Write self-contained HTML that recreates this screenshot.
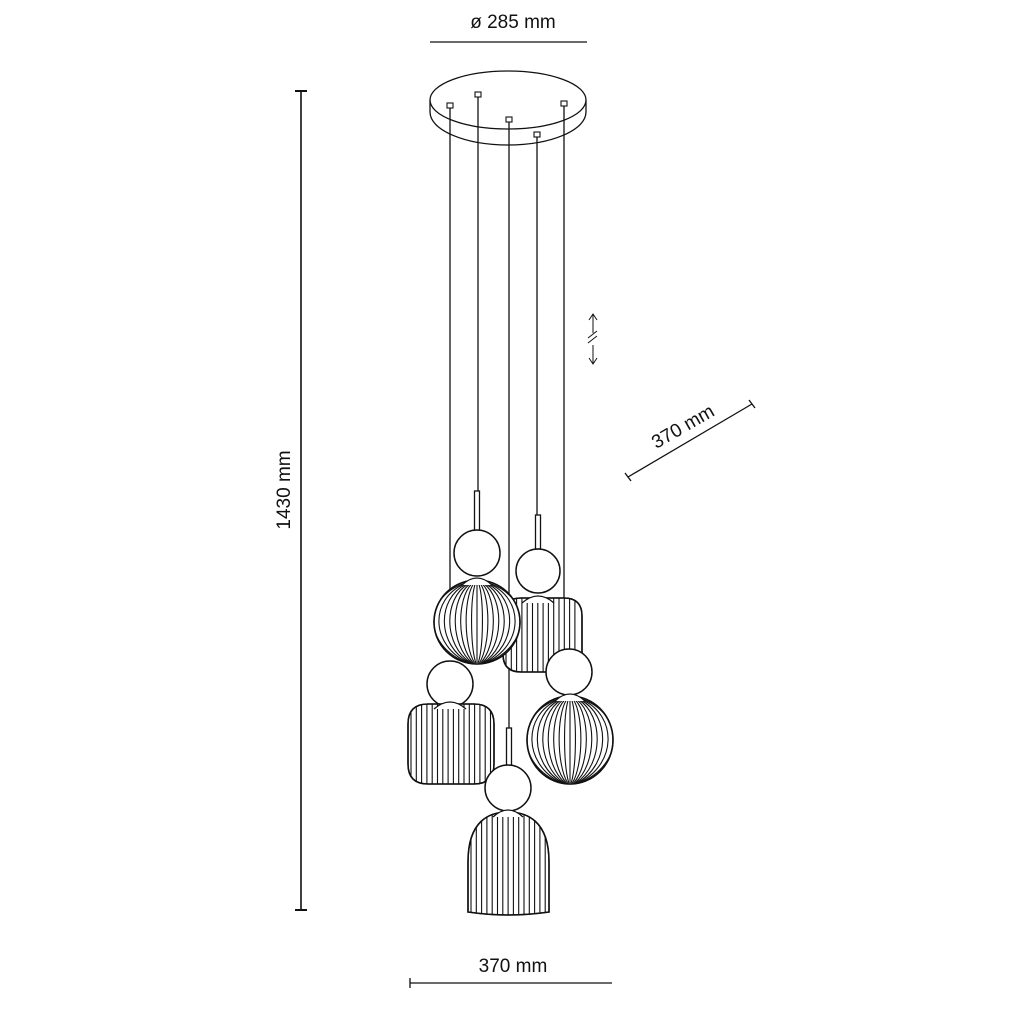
<!DOCTYPE html>
<html><head><meta charset="utf-8"><style>
html,body{margin:0;padding:0;background:#fff;}
svg{display:block;}
text{font-family:"Liberation Sans",sans-serif;fill:#111;}
</style></head><body>
<svg id="s" width="1010" height="1010" viewBox="0 0 1010 1010" xmlns="http://www.w3.org/2000/svg">
<defs></defs>
<g stroke="#111" fill="none" stroke-width="1.3">
 <text x="513" y="28" font-size="19" text-anchor="middle" stroke="none">ø 285 mm</text>
 <line x1="430" y1="42" x2="587" y2="42"/>
 <line x1="301" y1="91" x2="301" y2="910" stroke-width="1.6"/>
 <line x1="295" y1="91" x2="307" y2="91" stroke-width="2"/>
 <line x1="295" y1="910" x2="307" y2="910" stroke-width="2"/>
 <text x="0" y="0" font-size="19" text-anchor="middle" stroke="none" transform="translate(290,490) rotate(-90)">1430 mm</text>
 <text x="513" y="972" font-size="19" text-anchor="middle" stroke="none">370 mm</text>
 <line x1="410" y1="983" x2="612" y2="983"/>
 <line x1="410" y1="978" x2="410" y2="988"/>
 <line x1="628" y1="477" x2="752" y2="404"/>
 <line x1="625" y1="473" x2="631" y2="481"/>
 <line x1="749" y1="400" x2="755" y2="408"/>
 <text x="0" y="0" font-size="19" text-anchor="middle" stroke="none" transform="translate(686,432) rotate(-30)">370 mm</text>
 <g stroke-width="1">
  <line x1="593" y1="314" x2="593" y2="333"/><polyline points="589,320 593,314 597,320"/>
  <line x1="593" y1="345" x2="593" y2="364"/><polyline points="589,358 593,364 597,358"/>
  <line x1="588" y1="338" x2="597" y2="331"/><line x1="588" y1="343" x2="597" y2="336"/>
 </g>
 <path d="M430,100 L430,112 A78,33 0 0 0 586,112 L586,100" fill="#fff"/>
 <ellipse cx="508" cy="100" rx="78" ry="29" fill="#fff"/>
 <g id="cords"></g>
</g>
<g id="lamps" stroke="#111" fill="none" stroke-width="1.3"></g>
</svg>
<script>
var NS="http://www.w3.org/2000/svg";
function el(p,t,a){var e=document.createElementNS(NS,t);for(var k in a)e.setAttribute(k,a[k]);p.appendChild(e);return e;}
var cords=document.getElementById('cords');
[[450,108,600],[478,97,492],[509,122,730],[537,137,516],[564,106,605]].forEach(function(c){
 el(cords,'line',{x1:c[0],y1:c[1],x2:c[0],y2:c[2]});
 el(cords,'rect',{x:c[0]-3,y:c[1]-5,width:6,height:5,fill:'#fff','stroke-width':1.1});
});
var L=document.getElementById('lamps');var defs=document.querySelector('defs');var cid=0;
function shade(pathD,x0,x1,step){
 cid++;var cp=el(defs,'clipPath',{id:'c'+cid});el(cp,'path',{d:pathD});
 el(L,'path',{d:pathD,fill:'#fff'});
 var g=el(L,'g',{'clip-path':'url(#c'+cid+')','stroke-width':1.1});
 for(var x=x0;x<=x1;x+=step)el(g,'line',{x1:x,y1:0,x2:x,y2:1010});
 el(L,'path',{d:pathD,'stroke-width':1.6});
}
function globe(cx,cy,rx,ry){
 var d='M'+(cx-rx)+','+cy+' A'+rx+','+ry+' 0 1 0 '+(cx+rx)+','+cy+' A'+rx+','+ry+' 0 1 0 '+(cx-rx)+','+cy+'Z';
 cid++;var cp=el(defs,'clipPath',{id:'c'+cid});el(cp,'path',{d:d});
 el(L,'path',{d:d,fill:'#fff'});
 var g=el(L,'g',{'clip-path':'url(#c'+cid+')','stroke-width':1.1});
 var top=cy-ry+4,bot=cy+ry-1;
 for(var i=-8;i<=8;i++){
  var x=cx+i*5;
  if(i==0){el(g,'line',{x1:cx,y1:top,x2:cx,y2:bot});continue;}
  var ctl=cx+i*5*1.35;
  el(g,'path',{d:'M'+(cx+i*1.8)+','+top+' C'+ctl+','+(cy-ry*0.55)+' '+ctl+','+(cy+ry*0.55)+' '+(cx+i*1.2)+','+bot});
 }
 el(L,'path',{d:d,'stroke-width':1.6});
 dome(cx,cy-ry+2,15);
}
function ball(cx,cy,r){el(L,'circle',{cx:cx,cy:cy,r:r,fill:'#fff','stroke-width':1.5});}
function rod(x,y1,y2){el(L,'rect',{x:x-2.5,y:y1,width:5,height:y2-y1,fill:'#fff'});}
function dome(cx,y,w){el(L,'path',{d:'M'+(cx-w)+','+(y+3)+' Q'+cx+','+(y-11)+' '+(cx+w)+','+(y+3),fill:'#fff'});}
function drum(x0,x1,y0,y1,r){
 var d='M'+(x0+r)+','+y0+' L'+(x1-r)+','+y0+' Q'+x1+','+y0+' '+x1+','+(y0+r)+' L'+x1+','+(y1-r)+' Q'+x1+','+y1+' '+(x1-r)+','+y1+' L'+(x0+r)+','+y1+' Q'+x0+','+y1+' '+x0+','+(y1-r)+' L'+x0+','+(y0+r)+' Q'+x0+','+y0+' '+(x0+r)+','+y0+'Z';
 shade(d,x0+3,x1-2,5.3);
}
rod(538,515,549);ball(538,571,22);
drum(503,582,598,672,18);dome(538,600,16);
rod(477,491,531);ball(477,553,23);
globe(477,622,43,42);
ball(569,672,23);
globe(570,740,43,44);
ball(450,684,23);
drum(408,494,704,784,20);dome(450,706,16);
rod(509,728,766);ball(508,788,23);
shade('M468,912 L468,862 C468,820 490,812 508,812 C526,812 549,820 549,862 L549,912 Q508,918 468,912Z',471,548,5.3);
dome(508,814,15);
</script>
</body></html>
